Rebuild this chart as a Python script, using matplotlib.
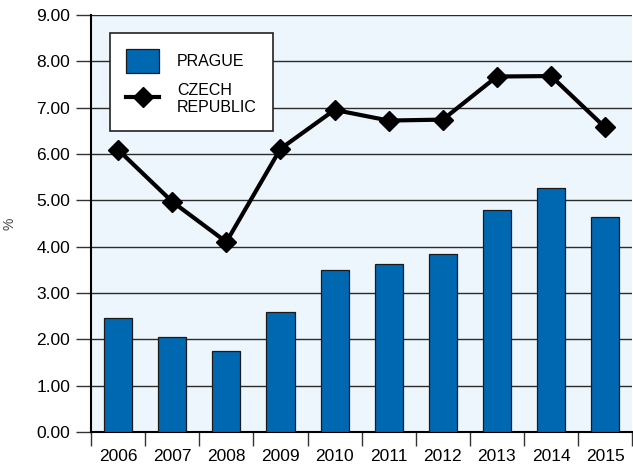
import numpy as np
import matplotlib.pyplot as plt
from matplotlib.ticker import FormatStrFormatter

plt.rcParams['font.family'] = ['Liberation Sans', 'DejaVu Sans']

# Datos
years = ['2006', '2007', '2008', '2009', '2010', '2011', '2012', '2013', '2014', '2015']
prague = [2.46, 2.05, 1.75, 2.59, 3.50, 3.63, 3.85, 4.79, 5.26, 4.64]
czech = [6.09, 4.97, 4.10, 6.11, 6.95, 6.72, 6.74, 7.67, 7.68, 6.57]

fig = plt.figure(figsize=(6.33, 4.65), dpi=100)
ax = fig.add_axes([0.1438, 0.071, 0.855, 0.897])
ax.set_facecolor('#EEF6FD')

x = np.arange(len(years))
bars = ax.bar(x, prague, width=0.52, color='#0067B1', edgecolor='#1a1a1a', linewidth=0.9,
              label='PRAGUE', zorder=3)
line, = ax.plot(x, czech, color='black', linewidth=3, marker='D', markersize=10,
                label='CZECH\nREPUBLIC', zorder=4)

# Ejes
ax.set_xlim(-0.5, len(years) - 0.5)
ax.set_ylim(0, 9)
ax.set_yticks(np.arange(0, 10, 1))
ax.yaxis.set_major_formatter(FormatStrFormatter('%.2f'))
ax.yaxis.grid(True, color='#2b2b2b', linewidth=1.0, zorder=1)
ax.set_axisbelow(True)

ax.set_xticks(x)
ax.set_xticklabels(years)
ax.set_xticks(np.arange(-0.5, len(years), 1), minor=True)
ax.tick_params(axis='x', which='major', length=0, pad=12, labelsize=12.5)
ax.tick_params(axis='x', which='minor', length=10, width=1, color='#333333', direction='out')
ax.tick_params(axis='y', length=11, width=1, color='#333333', labelsize=12.5, pad=4)

for s in ['top', 'right']:
    ax.spines[s].set_visible(False)
ax.spines['left'].set_linewidth(1.5)
ax.spines['bottom'].set_linewidth(1.5)

ax.set_ylabel('%', fontsize=10, color='#444444', labelpad=14)

leg = ax.legend([bars, line], ['PRAGUE', 'CZECH\nREPUBLIC'],
                loc='upper left', bbox_to_anchor=(0.035, 0.957), fontsize=11.5,
                frameon=True, fancybox=False, framealpha=1, edgecolor='#222222',
                handlelength=2.1, handleheight=2.0, borderpad=1.0, labelspacing=0.6,
                handletextpad=1.1, borderaxespad=0)
leg.get_frame().set_linewidth(1.2)
leg.set_zorder(5)

plt.savefig('out.png', dpi=100)
